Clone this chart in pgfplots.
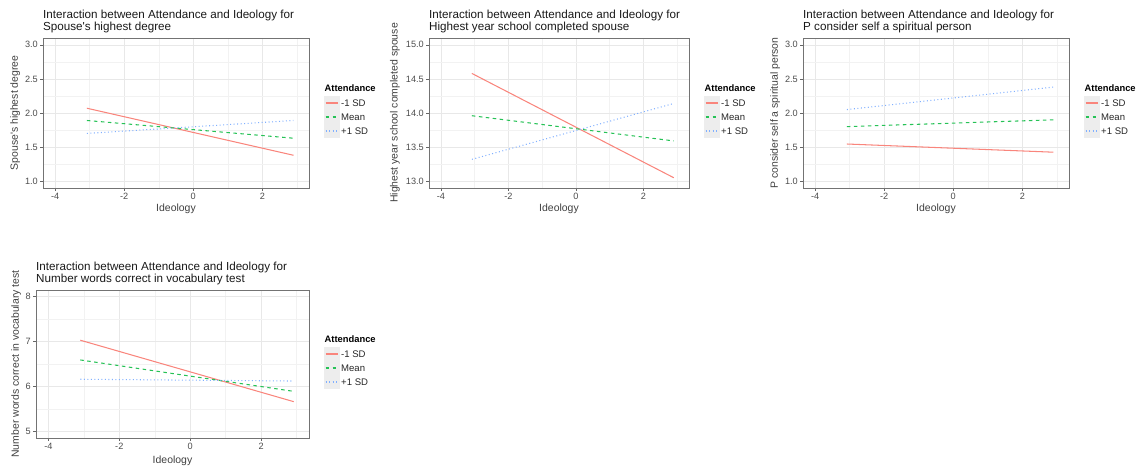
\documentclass[border=0pt]{standalone}
\usepackage{fontspec}
\setmainfont{Liberation Sans}
\usepackage{pgfplots}
\usepackage{pgfplotstable}
\pgfplotsset{compat=1.18}
\definecolor{lred}{RGB}{249,133,124}
\definecolor{lgreen}{RGB}{38,194,86}
\definecolor{lblue}{RGB}{129,176,255}
\definecolor{keybg}{RGB}{237,237,237}

\pgfplotstableread{
x lo mean hi
-3.08 2.07 1.89 1.70
2.90 1.38 1.63 1.89
}\tabA
\pgfplotstableread{
x lo mean hi
-3.08 14.58 13.96 13.32
2.90 13.05 13.59 14.14
}\tabB
\pgfplotstableread{
x lo mean hi
-3.08 1.545 1.80 2.05
2.90 1.425 1.90 2.38
}\tabC
\pgfplotstableread{
x lo mean hi
-3.10 7.03 6.59 6.16
2.92 5.66 5.89 6.12
}\tabD

\tikzset{
  lo/.style={color=lred, line width=1.05bp},
  mn/.style={color=lgreen, line width=1.05bp, dash pattern=on 3.5bp off 3.5bp},
  hi/.style={color=lblue, line width=1.05bp, dash pattern=on 1bp off 2.5bp},
}
\pgfplotsset{
  ggpanel/.style={
    scale only axis,
    xmin=-4.35, xmax=3.35,
    xtick={-4,-2,0,2},
    minor xtick={-3,-1,1,3},
    grid=both,
    major grid style={color=black!9, line width=0.6bp},
    minor grid style={color=black!5, line width=0.4bp},
    axis line style={color=black!55, line width=0.6bp},
    tick style={color=black!60, line width=0.5bp},
    tick align=outside,
    major tick length=3bp,
    minor tick length=0pt,
    xtick pos=bottom, ytick pos=left,
    /pgf/number format/assume math mode=true,
    ticklabel style={font=\fontsize{9.2}{10}\selectfont, text=black!70},
    xticklabel style={inner ysep=2bp},
    yticklabel style={inner xsep=2bp},
    xlabel={Ideology},
    xlabel style={at={(axis description cs:0.5,0)}, anchor=center, yshift=-20.5bp, font=\fontsize{10.5}{12}\selectfont, text=black!75},
    ylabel style={anchor=center, font=\fontsize{10.5}{12}\selectfont, text=black!75},
    title style={at={(axis description cs:0,1)}, anchor=south west, align=left, inner xsep=0pt, inner ysep=0pt, yshift=-1.5bp, font=\fontsize{11.7}{12.4}\selectfont, text=black!90},
  },
}
% legend: #1 = right edge of axis box, #2 = vertical centre of axis box
\newcommand{\gglegend}[2]{%
  \node[anchor=west, inner sep=0pt, font=\fontsize{9.4}{10}\selectfont\bfseries] at ({#1+15.5},{#2+25}) {Attendance};
  \foreach \k/\st/\lab in {0/lo/-1 SD,1/mn/Mean,2/hi/+1 SD}{
    \fill[keybg] ({#1+15},{#2+10-14*\k-6.6}) rectangle ({#1+30.5},{#2+10-14*\k+6.6});
    \draw[\st] ({#1+16.5},{#2+10-14*\k}) -- ({#1+29},{#2+10-14*\k});
    \node[anchor=west, inner sep=0pt, font=\fontsize{9.6}{10}\selectfont, text=black!85] at ({#1+32},{#2+10-14*\k}) {\lab};
  }%
}

\begin{document}
\begin{tikzpicture}[x=1bp,y=1bp]
\useasboundingbox (0,0) rectangle (1139,468);

% Panel 1
\begin{axis}[ggpanel, at={(43bp,280bp)}, anchor=south west, width=266bp, height=150bp,
  ymin=0.9, ymax=3.1, ytick={1,1.5,2,2.5,3}, minor ytick={1.25,1.75,2.25,2.75},
  yticklabel style={/pgf/number format/.cd, fixed, fixed zerofill, precision=1},
  ylabel={Spouse\textquotesingle s highest degree},
  ylabel style={at={(axis description cs:-0.105,0.5)}},
  title={Interaction between Attendance and Ideology for\\Spouse\textquotesingle s highest degree}]
\addplot[lo] table[x=x,y=lo]{\tabA};
\addplot[mn] table[x=x,y=mean]{\tabA};
\addplot[hi] table[x=x,y=hi]{\tabA};
\end{axis}
\gglegend{309}{355}

% Panel 2
\begin{axis}[ggpanel, at={(429bp,280bp)}, anchor=south west, width=260bp, height=150bp,
  ymin=12.9, ymax=15.1, ytick={13,13.5,14,14.5,15}, minor ytick={13.25,13.75,14.25,14.75},
  yticklabel style={/pgf/number format/.cd, fixed, fixed zerofill, precision=1},
  ylabel={Highest year school completed spouse},
  ylabel style={at={(axis description cs:-0.131,0.5)}},
  title={Interaction between Attendance and Ideology for\\Highest year school completed spouse}]
\addplot[lo] table[x=x,y=lo]{\tabB};
\addplot[mn] table[x=x,y=mean]{\tabB};
\addplot[hi] table[x=x,y=hi]{\tabB};
\end{axis}
\gglegend{689}{355}

% Panel 3
\begin{axis}[ggpanel, at={(803bp,280bp)}, anchor=south west, width=266bp, height=150bp,
  ymin=0.9, ymax=3.1, ytick={1,1.5,2,2.5,3}, minor ytick={1.25,1.75,2.25,2.75},
  yticklabel style={/pgf/number format/.cd, fixed, fixed zerofill, precision=1},
  ylabel={P consider self a spiritual person},
  ylabel style={at={(axis description cs:-0.105,0.5)}},
  title={Interaction between Attendance and Ideology for\\P consider self a spiritual person}]
\addplot[lo] table[x=x,y=lo]{\tabC};
\addplot[mn] table[x=x,y=mean]{\tabC};
\addplot[hi] table[x=x,y=hi]{\tabC};
\end{axis}
\gglegend{1069}{355}

% Panel 4
\begin{axis}[ggpanel, at={(36bp,30bp)}, anchor=south west, width=273bp, height=148bp,
  ymin=4.85, ymax=8.15, ytick={5,6,7,8}, minor ytick={5.5,6.5,7.5},
  ylabel={Number words correct in vocabulary test},
  ylabel style={at={(axis description cs:-0.073,0.5)}},
  xlabel style={yshift=-2bp},
  title={Interaction between Attendance and Ideology for\\Number words correct in vocabulary test}]
\addplot[lo] table[x=x,y=lo]{\tabD};
\addplot[mn] table[x=x,y=mean]{\tabD};
\addplot[hi] table[x=x,y=hi]{\tabD};
\end{axis}
\gglegend{309}{104}
\end{tikzpicture}
\end{document}
